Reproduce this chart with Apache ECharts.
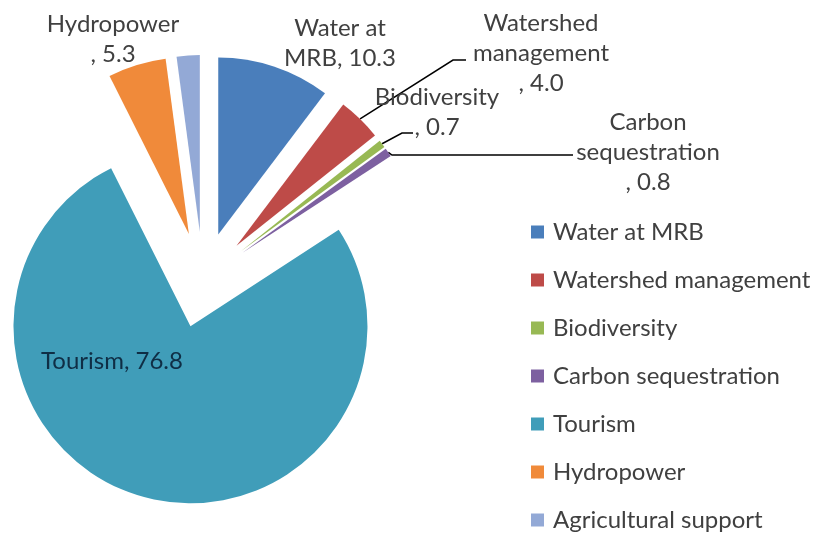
<!DOCTYPE html>
<html>
<head>
<meta charset="utf-8">
<script src="https://cdn.jsdelivr.net/npm/echarts@6/dist/echarts.min.js"></script>
<style>
  html, body { margin: 0; padding: 0; background: #ffffff; }
  #chart { width: 825px; height: 535px; }
</style>
</head>
<body>
<div id="chart"></div>
<script>
// Share of total value by ecosystem service
const categories = ['Water at MRB', 'Watershed management', 'Biodiversity', 'Carbon sequestration', 'Tourism', 'Hydropower', 'Agricultural support'];
const values = [10.3, 4.0, 0.7, 0.8, 76.8, 5.3, 2.1];
const colors = ['#4a7ebb', '#be4b48', '#98b954', '#7d60a0', '#409db9', '#f08a3a', '#93a9d6'];

// How each category name wraps inside its data label (null = no label)
const labelNames = ['Water at\nMRB', 'Watershed\nmanagement\n', 'Biodiversity\n', 'Carbon\nsequestration\n', 'Tourism', 'Hydropower\n', null];

// Label placement (text block centres) and leader-line elbows
const labelSpots = [[340, 43], [541, 53], [437, 112], [648, 152], [112, 361], [113, 39], null];
const leaderBends = [null, [[453, 60], [466, 60]], [[402, 133], [413, 133]], [[392, 155], [573, 155]], null, null, null];

const textColor = '#404040';
const baseCenter = [203, 280];
const pieRadius = 177;
const explode = 48;

// Every slice is pulled away from the middle along its own bisector
const total = values.reduce((a, b) => a + b, 0);
let running = 0;
const sliceCenters = values.map(v => {
  const mid = (running + v / 2) / total * 2 * Math.PI;
  running += v;
  return [baseCenter[0] + explode * Math.sin(mid), baseCenter[1] - explode * Math.cos(mid)];
});

function placeLabel(params) {
  const i = params.dataIndex;
  const spot = labelSpots[i];
  if (!spot) return {};
  const out = { x: spot[0], y: spot[1], align: 'center', verticalAlign: 'middle' };
  const bend = leaderBends[i];
  if (bend && params.labelLinePoints) {
    out.labelLinePoints = [params.labelLinePoints[0], bend[0], bend[1]];
  }
  return out;
}

const series = categories.map((_, k) => ({
  type: 'pie',
  center: sliceCenters[k],
  radius: pieRadius,
  startAngle: 90,
  clockwise: true,
  silent: true,
  avoidLabelOverlap: false,
  emphasis: { disabled: true },
  itemStyle: { borderWidth: 0 },
  label: {
    position: 'outside',
    fontSize: 24,
    lineHeight: 30,
    fontFamily: 'Lato, sans-serif',
    align: 'center',
    formatter: (p) => labelNames[p.dataIndex] + ', ' + p.value.toFixed(1)
  },
  labelLine: {
    lineStyle: { color: '#000000', width: 1.5 }
  },
  labelLayout: placeLabel,
  data: categories.map((name, i) => ({
    name: name,
    value: values[i],
    itemStyle: { color: i === k ? colors[i] : 'rgba(0,0,0,0)' },
    label: {
      show: i === k && labelNames[i] !== null,
      color: i === 4 ? '#0f2e45' : textColor
    },
    labelLine: { show: i === k && leaderBends[i] !== null }
  }))
}));

const chart = echarts.init(document.getElementById('chart'), null, { renderer: 'canvas' });

chart.setOption({
  animation: false,
  backgroundColor: '#ffffff',
  textStyle: { fontFamily: 'Lato, sans-serif' },
  legend: {
    orient: 'vertical',
    left: 531,
    top: 220,
    height: 320,
    padding: 0,
    itemWidth: 13,
    itemHeight: 13,
    itemGap: 24,
    icon: 'rect',
    selectedMode: false,
    data: categories.map((name, i) => ({ name: name, itemStyle: { color: colors[i] } })),
    textStyle: { fontSize: 24, color: textColor, fontFamily: 'Lato, sans-serif', padding: [0, 0, 0, 4] }
  },
  series: series
});
</script>
</body>
</html>
